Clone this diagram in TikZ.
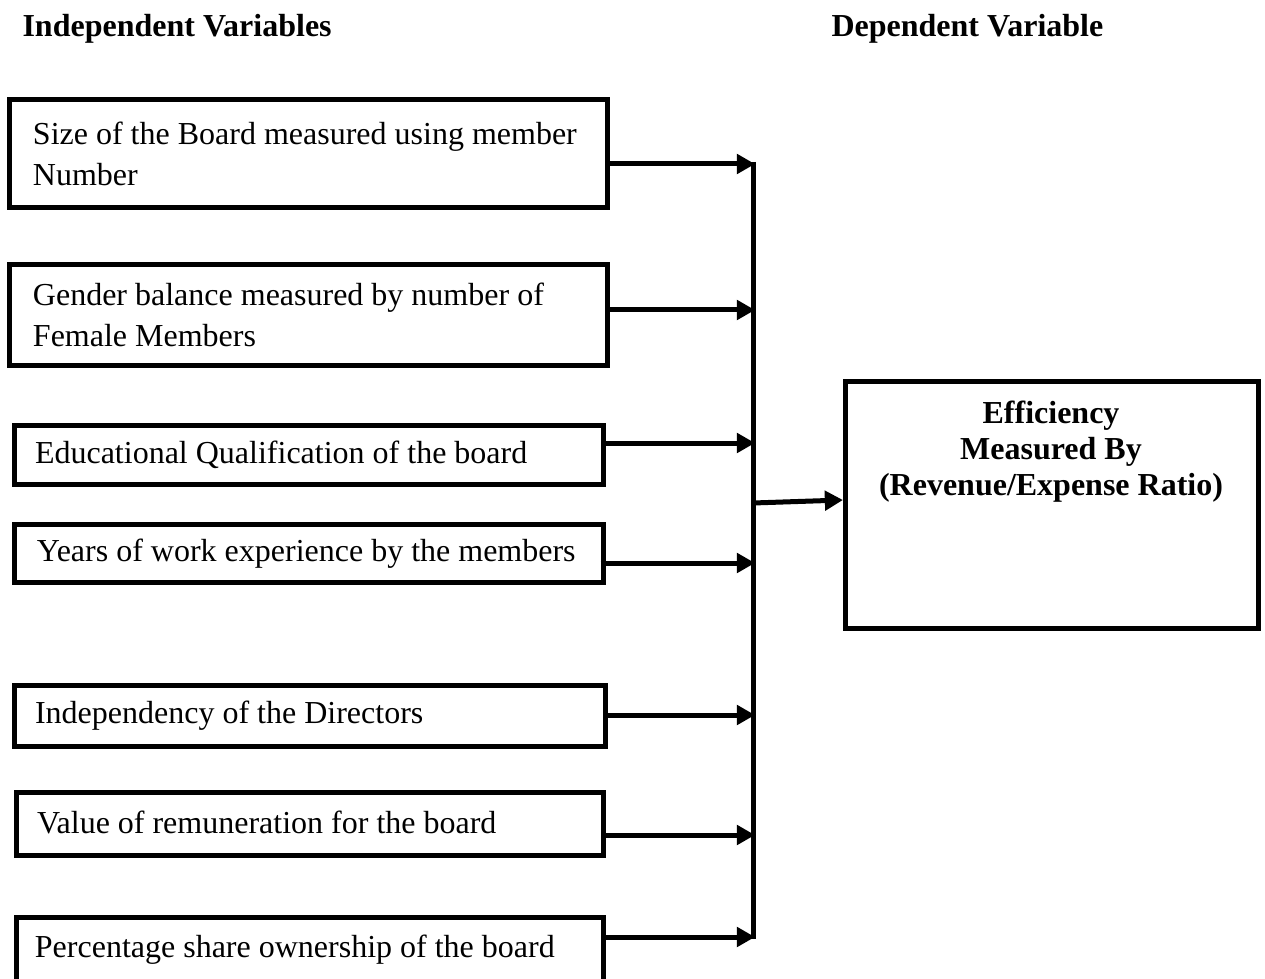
\documentclass[tikz,border=0pt]{standalone}
\usepackage{fontspec}
\setmainfont{Liberation Serif}
\usetikzlibrary{arrows.meta}
\begin{document}
\begin{tikzpicture}[x=0.375pt,y=-0.375pt,
  thick5/.style={line width=1.875pt},
  ivbox/.style={draw, thick5, rectangle, inner xsep=8.8pt, inner ysep=0pt, align=flush left,
    font=\fontsize{12pt}{15.4pt}\selectfont},
  title/.style={anchor=base west, inner sep=0pt, font=\fontsize{12pt}{14pt}\selectfont\bfseries},
  arr/.style={thick5, -{Triangle[length=6.8pt,width=7.2pt]}},
  bus/.style={thick5}]
\useasboundingbox (0,0) rectangle (1265,979);
\clip (0,0) rectangle (1265,979);

% titles
\node[title] (tIV) at (22,37) {Independent Variables};
\node[title] (tDV) at (831,37) {Dependent Variable};

% independent variable boxes
\node[ivbox, minimum width=224.25pt, minimum height=40.5pt, text width=206.65pt] (b1) at (308.5,153.5)
  {Size of the Board measured using member\\Number};
\node[ivbox, minimum width=224.25pt, minimum height=37.9pt, text width=206.65pt] (b2) at (308.5,315)
  {Gender balance measured by number of\\Female Members};
\node[ivbox, inner xsep=7.7pt, minimum width=220.9pt, minimum height=22.1pt, text width=205.5pt] (b3) at (309,455)
  {\raisebox{-0.7pt}{Educational Qualification of the board}};
\node[ivbox, inner xsep=8.4pt, minimum width=220.9pt, minimum height=21.75pt, text width=204.1pt] (b4) at (309,553.5)
  {\raisebox{2.6pt}{Years of work experience by the members}};
\node[ivbox, inner xsep=7.7pt, minimum width=221.6pt, minimum height=22.9pt, text width=206.2pt] (b5) at (310,716)
  {\raisebox{-0.7pt}{Independency of the Directors}};
\node[ivbox, inner xsep=7.7pt, minimum width=220.1pt, minimum height=23.6pt, text width=204.7pt] (b6) at (310,824)
  {\raisebox{1.1pt}{Value of remuneration for the board}};
\node[ivbox, inner xsep=6.9pt, minimum width=220.1pt, minimum height=24.6pt, text width=206.3pt] (b7) at (310,950)
  {\raisebox{2.3pt}{Percentage share ownership of the board}};

% dependent variable box
\node[draw, thick5, rectangle, minimum width=154.9pt, minimum height=92.6pt] (eff) at (1052,505) {};
\node[align=center, inner sep=0pt, font=\fontsize{12pt}{13.5pt}\selectfont\bfseries] (effT) at (1051,452)
  {Efficiency\\Measured By\\(Revenue/Expense Ratio)};

% bus
\coordinate (busTop) at (753,162);
\coordinate (busBot) at (753,939);
\draw[bus] (busTop) -- (busBot);

\coordinate (t1) at (755,164);
\coordinate (t2) at (755,310);
\coordinate (t3) at (755,443);
\coordinate (t4) at (755,563);
\coordinate (t5) at (755,715);
\coordinate (t6) at (755,835);
\coordinate (t7) at (755,937);

\draw[arr] (b1.east |- t1) -- (t1);
\draw[arr] (b2.east |- t2) -- (t2);
\draw[arr] (b3.east |- t3) -- (t3);
\draw[arr] ([xshift=-2pt]b4.east |- t4) -- (t4);
\draw[arr] (b5.east |- t5) -- (t5);
\draw[arr] (b6.east |- t6) -- (t6);
\draw[arr] (b7.east |- t7) -- (t7);

% output arrow
\coordinate (junc) at (753,503);
\draw[arr] (junc) -- (eff.west |- 0,500);
\end{tikzpicture}
\end{document}
